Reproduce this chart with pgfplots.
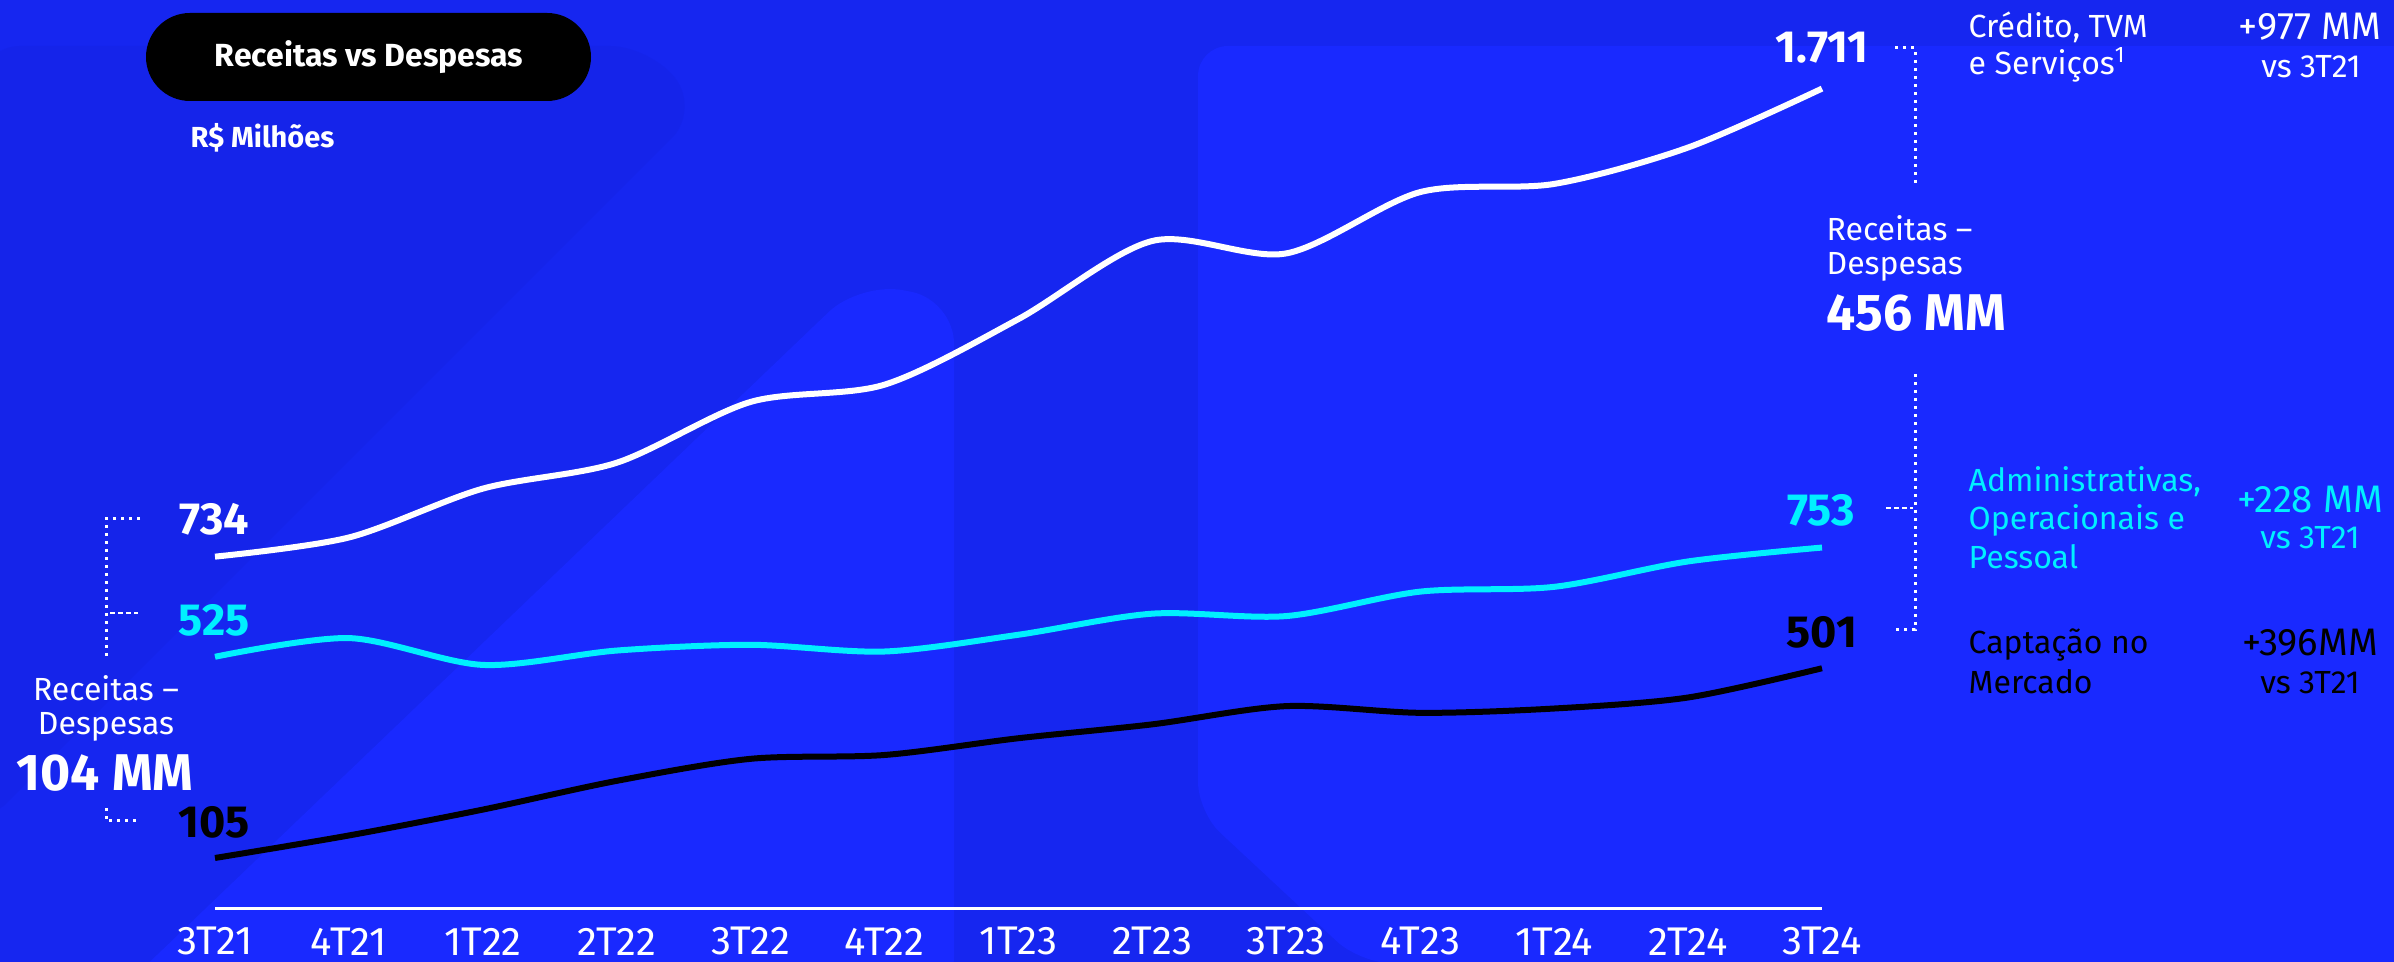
\documentclass[border=0pt]{standalone}
\usepackage{fontspec}
\setmainfont{Fira Sans}
\usepackage{pgfplots}
\pgfplotsset{compat=1.18}
\usepackage{pgfplotstable}
\definecolor{bgbase}{RGB}{22,38,240}
\definecolor{bgdark}{RGB}{21,36,234}
\definecolor{bglight}{RGB}{25,41,255}
\definecolor{cyanl}{RGB}{0,240,255}

\pgfplotstableread{
x w c b
0 734 525 105
1 774 564 152
2 876 508 206
3 930 538 266
4 1057 550 312
5 1093 536 320
6 1230 571 355
7 1393 615 384
8 1367 610 422
9 1495 661 408
10 1512 671 417
11 1588 724 440
12 1711 753 501
}\data

\newcommand{\fs}[1]{\fontsize{#1}{#1}\selectfont}
\tikzset{dotb/.style={white, line width=0.9pt, line cap=butt, dash pattern=on 0.9pt off 1.5pt},
         dashb/.style={white, line width=0.6pt, line cap=butt, dash pattern=on 1.5pt off 0.9pt}}

\begin{document}
\begin{tikzpicture}
\begin{scope}[x=0.3pt,y=-0.3pt,yshift=288.6pt]
\fill[bgbase] (0,0) rectangle (2394,962);
\begin{scope}
\clip (0,0) rectangle (2394,962);
% decorative shapes
\fill[bgdark, rounded corners=12pt] (-20,46) -- (650,46) -- (700,110) -- (-20,830) -- cycle;
\fill[bglight, rounded corners=13pt] (110,1000) -- (860,282) -- (954,300) -- (954,1000) -- cycle;
\fill[bglight, rounded corners=9pt] (1198,46) -- (2420,46) -- (2420,1000) -- (1359,962) -- (1198,812) -- cycle;
\end{scope}
% title pill
\fill[black, rounded corners=13.2pt] (146,13) rectangle (591,101);
\node[white, font=\bfseries\fs{9.6pt}] at (369,57) {Receitas vs Despesas};
\node[white, font=\bfseries\fs{8.7pt}, anchor=west, inner sep=0] at (190,138) {R\$ Milhões};
% left labels
\node[white, font=\bfseries\fs{13.5pt}] at (214,519) {734};
\node[cyanl, font=\bfseries\fs{13.5pt}] at (214,620) {525};
\node[black, font=\bfseries\fs{13.5pt}] at (214,822) {105};
\draw[dotb] (140,519) -- (106,519) -- (106,657);
\draw[dashb] (110,613) -- (138,613);
\draw[dotb] (106,808) -- (106,821) -- (140,821);
\node[white, font=\fs{9.6pt}] at (106,688) {Receitas –};
\node[white, font=\fs{9.6pt}] at (106,727) {Despesas};
\node[white, font=\bfseries\fs{15.5pt}] at (105,773) {104 MM};
% right labels
\node[white, font=\bfseries\fs{13.5pt}] at (1822,48) {1.711};
\node[cyanl, font=\bfseries\fs{13.5pt}] at (1821,510) {753};
\node[black, font=\bfseries\fs{13.5pt}] at (1822,632) {501};
\draw[dotb] (1895,48) -- (1915,48) -- (1915,187);
\draw[dotb] (1915,374) -- (1915,630) -- (1895,630);
\draw[dashb] (1886,508) -- (1913,508);
\node[white, font=\fs{9.6pt}, anchor=west, inner sep=0] at (1826,228) {Receitas –};
\node[white, font=\fs{9.6pt}, anchor=west, inner sep=0] at (1826,267) {Despesas};
\node[white, font=\bfseries\fs{15.5pt}, anchor=west, inner sep=0] at (1826,313) {456 MM};
\node[white, font=\fs{9.6pt}, anchor=west, inner sep=0] at (1968,27) {Crédito, TVM};
\node[white, font=\fs{9.6pt}, anchor=west, inner sep=0] at (1968,65) {e Serviços\textsuperscript{1}};
\node[white, font=\fs{11.5pt}, inner sep=0] at (2310,27) {+977 MM};
\node[white, font=\fs{9.6pt}] at (2311,67) {vs 3T21};
\node[cyanl, font=\fs{9.6pt}, anchor=west, inner sep=0] at (1968,482) {Administrativas,};
\node[cyanl, font=\fs{9.6pt}, anchor=west, inner sep=0] at (1968,520) {Operacionais e};
\node[cyanl, font=\fs{9.6pt}, anchor=west, inner sep=0] at (1968,557) {Pessoal};
\node[cyanl, font=\fs{11.5pt}, inner sep=0] at (2310,500) {+228 MM};
\node[cyanl, font=\fs{9.6pt}] at (2310,538) {vs 3T21};
\node[black, font=\fs{9.6pt}, anchor=west, inner sep=0] at (1968,645) {Captação no};
\node[black, font=\fs{9.6pt}, anchor=west, inner sep=0] at (1968,682) {Mercado};
\node[black, font=\fs{11.5pt}, inner sep=0] at (2310,643) {+396MM};
\node[black, font=\fs{9.6pt}] at (2310,683) {vs 3T21};
\end{scope}

\begin{axis}[
  at={(64.5pt,16.11pt)}, anchor=south west, scale only axis,
  width=482.1pt, height=258.7pt,
  xmin=0, xmax=12, ymin=0, ymax=1800,
  axis x line=bottom, axis y line=none,
  x axis line style={white, line width=0.9pt, -},
  xtick={0,...,12},
  xticklabels={3T21,4T21,1T22,2T22,3T22,4T22,1T23,2T23,3T23,4T23,1T24,2T24,3T24},
  major tick length=0pt,
  xticklabel style={white, font=\fs{12pt}, anchor=center, inner sep=0pt, yshift=-9.9pt},
  ytick=\empty, clip=false,
]
\addplot[white, line width=1.8pt, smooth, tension=0.5] table[x=x,y=w] {\data};
\addplot[cyanl, line width=1.8pt, smooth, tension=0.5] table[x=x,y=c] {\data};
\addplot[black, line width=1.8pt, smooth, tension=0.5] table[x=x,y=b] {\data};
\end{axis}
\pgfresetboundingbox
\path[use as bounding box] (0,0) rectangle (718.2pt,288.6pt);
\end{tikzpicture}
\end{document}
